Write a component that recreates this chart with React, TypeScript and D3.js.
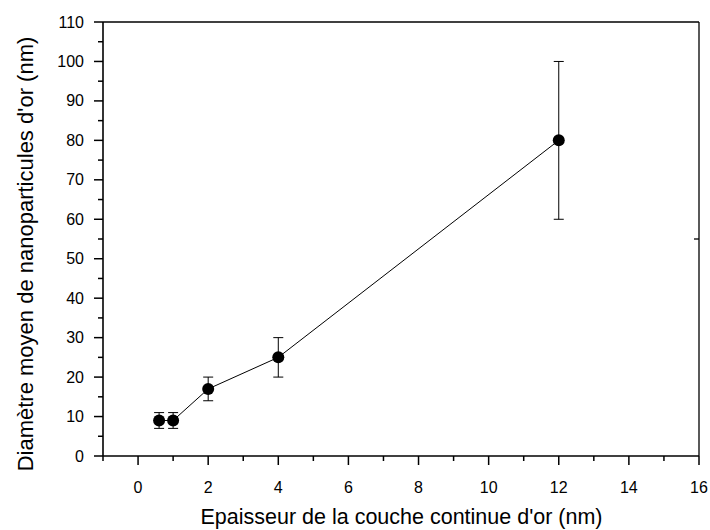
import React from "react";
import * as d3 from "d3";

const thickness = [0.6, 1, 2, 4, 12];
const diameter = [9, 9, 17, 25, 80];
const errors = [2, 2, 3, 5, 20];
const xTicks = [0, 2, 4, 6, 8, 10, 12, 14, 16];
const xMinor = [-1, 1, 3, 5, 7, 9, 11, 13, 15];
const yTicks = [0, 10, 20, 30, 40, 50, 60, 70, 80, 90, 100, 110];
const yMinor = [5, 15, 25, 35, 45, 55, 65, 75, 85, 95, 105];

export default function App() {
  const W = 710, H = 530;
  const left = 103, right = 699, top = 22, bottom = 456;
  const x = d3.scaleLinear().domain([-1, 16]).range([left, right]);
  const y = d3.scaleLinear().domain([0, 110]).range([bottom, top]);
  const line = d3.line<number>().x((_, i) => x(thickness[i])).y((d) => y(d));
  const font = "'Liberation Sans', Arial, sans-serif";
  return (
    <svg width={W} height={H} style={{ position: "absolute", left: 0, top: 0 }} fontFamily={font}>
      <rect width={W} height={H} fill="#fff" />
      {/* frame */}
      <line x1={left} x2={right} y1={top} y2={top} stroke="#000" strokeWidth={1.6} />
      <line x1={right} x2={right} y1={top} y2={bottom} stroke="#000" strokeWidth={1.3} />
      <line x1={left} x2={right} y1={bottom} y2={bottom} stroke="#000" strokeWidth={1.6} />
      <line x1={left} x2={left} y1={top} y2={bottom} stroke="#000" strokeWidth={1.6} />
      {/* x ticks */}
      {xTicks.map((t) => (
        <g key={"xt" + t}>
          <line x1={x(t)} x2={x(t)} y1={bottom} y2={bottom + 9} stroke="#000" strokeWidth={1.5} />
          <text x={x(t)} y={bottom + 37} textAnchor="middle" fontSize={16}>{t}</text>
        </g>
      ))}
      {xMinor.map((t) => (
        <line key={"xm" + t} x1={x(t)} x2={x(t)} y1={bottom} y2={bottom + 5} stroke="#000" strokeWidth={1.5} />
      ))}
      {/* y ticks */}
      {yTicks.map((t) => (
        <g key={"yt" + t}>
          <line x1={left - 9} x2={left} y1={y(t)} y2={y(t)} stroke="#000" strokeWidth={1.5} />
          <text x={left - 19} y={y(t) + 5.5} textAnchor="end" fontSize={16}>{t}</text>
        </g>
      ))}
      {yMinor.map((t) => (
        <line key={"ym" + t} x1={left - 5} x2={left} y1={y(t)} y2={y(t)} stroke="#000" strokeWidth={1.5} />
      ))}
      <line x1={right - 5} x2={right} y1={y(55)} y2={y(55)} stroke="#000" strokeWidth={1.3} />
      {/* line */}
      <path d={line(diameter) || ""} fill="none" stroke="#000" strokeWidth={1} />
      {/* error bars */}
      {diameter.map((d, i) => (
        <g key={"e" + i} stroke="#000" strokeWidth={1}>
          <line x1={x(thickness[i])} x2={x(thickness[i])} y1={y(d - errors[i])} y2={y(d + errors[i])} />
          <line x1={x(thickness[i]) - 5} x2={x(thickness[i]) + 5} y1={y(d - errors[i])} y2={y(d - errors[i])} />
          <line x1={x(thickness[i]) - 5} x2={x(thickness[i]) + 5} y1={y(d + errors[i])} y2={y(d + errors[i])} />
        </g>
      ))}
      {diameter.map((d, i) => (
        <circle key={"c" + i} cx={x(thickness[i])} cy={y(d)} r={6} fill="#000" />
      ))}
      <text x={401.5} y={524} textAnchor="middle" fontSize={21.5}>Epaisseur de la couche continue d'or (nm)</text>
      <text transform={`translate(33, 254) rotate(-90)`} textAnchor="middle" fontSize={22}>Diamètre moyen de nanoparticules d'or (nm)</text>
    </svg>
  );
}
